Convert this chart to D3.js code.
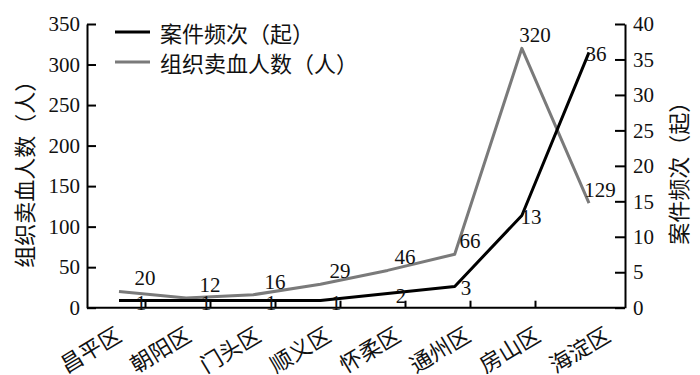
<!DOCTYPE html>
<html><head><meta charset="utf-8">
<script src="https://cdn.jsdelivr.net/npm/d3@7"></script>
<style>
body{margin:0;background:#fff}
text{font-family:"Liberation Serif","Noto Sans CJK SC",serif;fill:#111}
text.cjk{font-family:"Noto Sans CJK SC","Liberation Serif",sans-serif}
</style></head>
<body><svg id="c" width="700" height="375"></svg>
<script>
const categories = ["昌平区","朝阳区","门头区","顺义区","怀柔区","通州区","房山区","海淀区"];
const caseCounts = [1,1,1,1,2,3,13,36];
const sellers = [20,12,16,29,46,66,320,129];
const leftTicks = [0,50,100,150,200,250,300,350];
const rightTicks = [0,5,10,15,20,25,30,35,40];
const seriesNames = ["案件频次（起）","组织卖血人数（人）"];
const seriesColors = ["#000000","#7a7a7a"];
const leftTitle = "组织卖血人数（人）";
const rightTitle = "案件频次（起）";

const svg = d3.select("#c");
const L = 87, R = 625, T = 24, B = 307.7;
const serif = "Liberation Serif, Noto Sans CJK SC, serif";

const yL = d3.scaleLinear().domain([0,350]).range([B,T]);
const yR = d3.scaleLinear().domain([0,40]).range([B,T]);
const xLine = d3.scalePoint().domain(categories).range([119,589]);
const xLab = d3.scalePoint().domain(categories).range([145,600]);
const xCat = d3.scalePoint().domain(categories).range([123,612]);

// left axis
const gl = svg.append("g").attr("transform",`translate(${L},0)`)
  .call(d3.axisLeft(yL).tickValues(leftTicks).tickSizeInner(-9).tickSizeOuter(0).tickPadding(7));
// right axis
const gr = svg.append("g").attr("transform",`translate(${R},0)`)
  .call(d3.axisRight(yR).tickValues(rightTicks).tickSizeInner(-10).tickSizeOuter(0).tickPadding(8));
[gl,gr].forEach(g=>{
  g.attr("font-family",serif).attr("font-size",21);
  g.select(".domain").attr("stroke","#000").attr("stroke-width",2);
  g.selectAll(".tick line").attr("stroke","#000").attr("stroke-width",2);
  g.selectAll(".tick text").style("font-size","21px").style("font-family",serif).attr("fill","#111");
});

// bottom baseline
svg.append("line").attr("x1",L).attr("x2",R).attr("y1",B).attr("y2",B)
  .attr("stroke","#000").attr("stroke-width",2);
// bottom ticks
const gb = svg.append("g").attr("transform",`translate(0,${B})`)
  .call(d3.axisBottom(xLab).tickSizeInner(-7).tickSizeOuter(0).tickFormat(""));
gb.select(".domain").remove();
gb.selectAll(".tick text").remove();
gb.selectAll(".tick line").attr("stroke","#000").attr("stroke-width",2)
  .filter((d,i)=>i===categories.length-1).remove();

// category labels
svg.append("g").selectAll("text").data(categories).join("text")
  .attr("class","cjk")
  .attr("text-anchor","end")
  .attr("transform",d=>`translate(${xCat(d)},${B+32}) rotate(-31)`)
  .style("font-size","22px").text(d=>d);

// lines
const grayLine = d3.line().x((d,i)=>xLine(categories[i])).y(d=>yL(d));
const blackLine = d3.line().x((d,i)=>xLine(categories[i])).y(d=>yR(d));
svg.append("path").datum(sellers).attr("d",grayLine)
  .attr("fill","none").attr("stroke",seriesColors[1]).attr("stroke-width",3).attr("stroke-linejoin","round");
svg.append("path").datum(caseCounts).attr("d",blackLine)
  .attr("fill","none").attr("stroke",seriesColors[0]).attr("stroke-width",3).attr("stroke-linejoin","round");

// data labels
svg.append("g").selectAll("text").data(sellers).join("text")
  .attr("x",(d,i)=>xLab(categories[i])).attr("y",d=>yL(d)-6)
  .attr("text-anchor","middle").style("font-size","21px").text(d=>d);
svg.append("g").selectAll("text").data(caseCounts).join("text")
  .attr("x",(d,i)=>xLab(categories[i])-4).attr("y",d=>yR(d)+9)
  .attr("text-anchor","middle").style("font-size","21px").text(d=>d);

// axis titles
svg.append("text").attr("class","cjk")
  .attr("transform",`translate(23,${(T+B)/2+3}) rotate(-90)`)
  .attr("text-anchor","middle").attr("dominant-baseline","central")
  .style("font-size","22px").text(leftTitle);
svg.append("text").attr("class","cjk")
  .attr("transform",`translate(677,${(T+B)/2+2}) rotate(-90)`)
  .attr("text-anchor","middle").attr("dominant-baseline","central")
  .style("font-size","22px").text(rightTitle);

// legend
const lg = svg.append("g").attr("transform","translate(115,32)");
const items = lg.selectAll("g").data(seriesNames).join("g")
  .attr("transform",(d,i)=>`translate(0,${i*30})`);
items.append("line").attr("x1",0).attr("x2",35).attr("y1",0).attr("y2",0)
  .attr("stroke",(d,i)=>seriesColors[i]).attr("stroke-width",3);
items.append("text").attr("class","cjk").attr("x",45).attr("y",0)
  .attr("dominant-baseline","central").style("font-size","22px").text(d=>d);
</script>
</body></html>
